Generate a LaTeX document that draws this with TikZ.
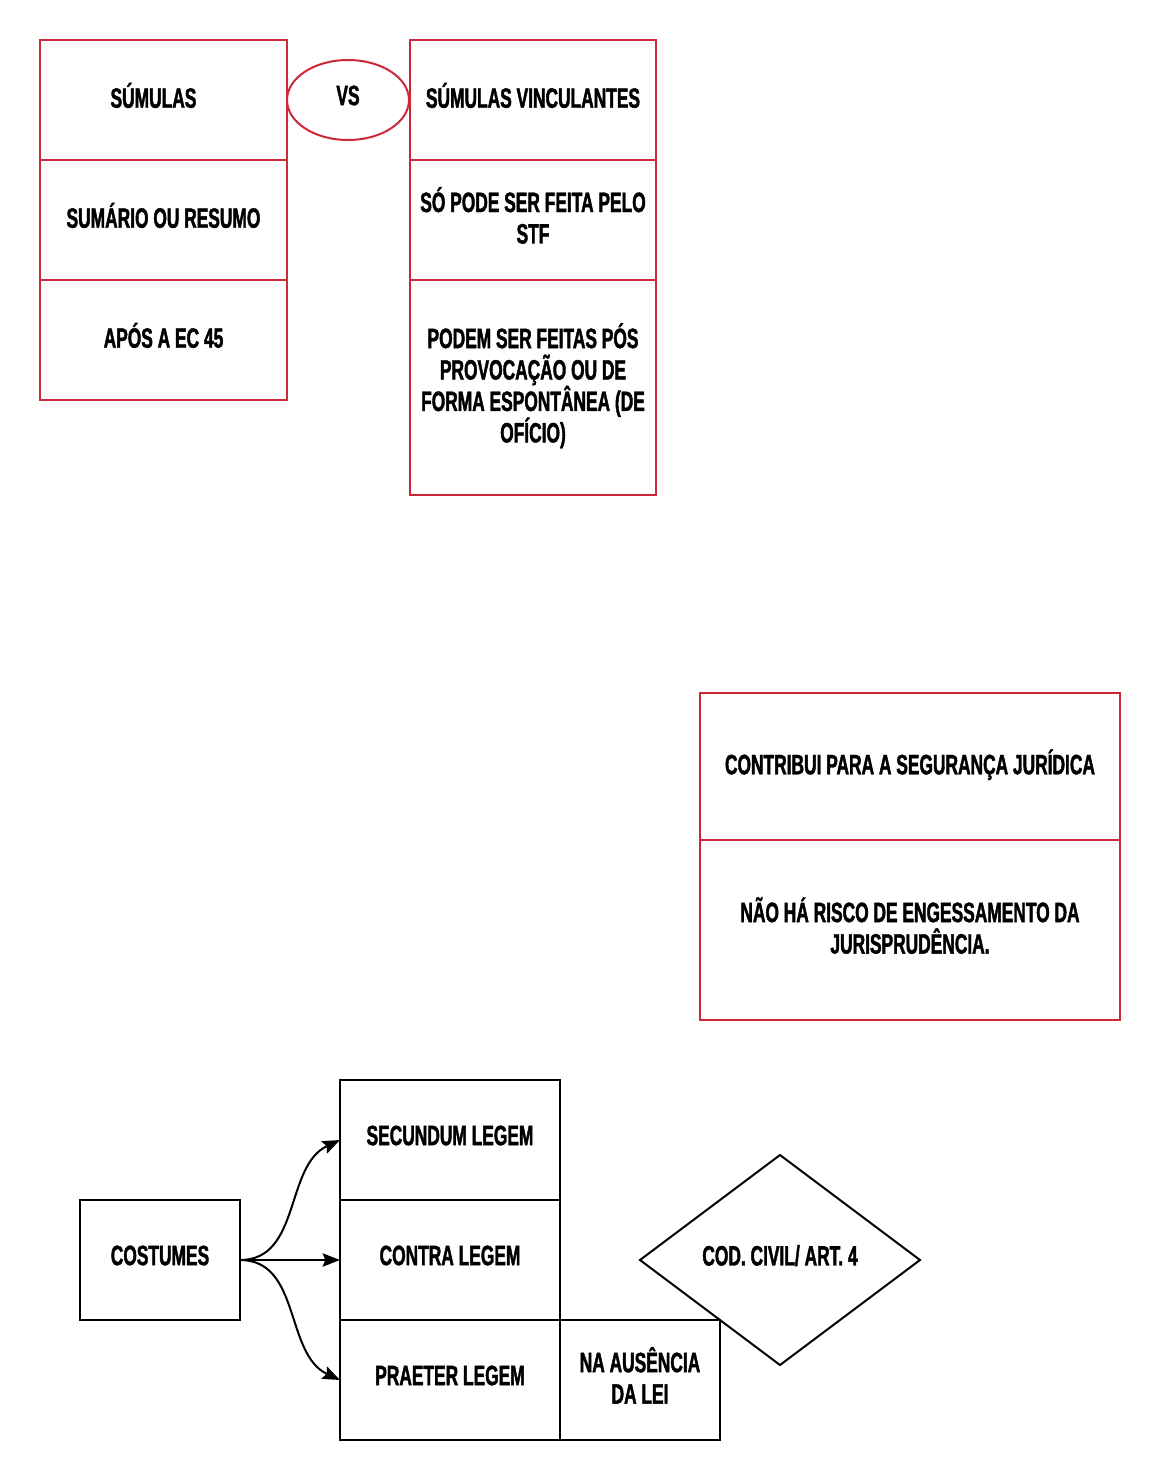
\documentclass[tikz,border=0pt]{standalone}
\usepackage{fontspec}
\newfontfamily\diagfont{Liberation Sans Bold}[FakeStretch=0.62, FakeBold=1.5]
\usetikzlibrary{positioning, shapes, arrows.meta}
\definecolor{boxred}{RGB}{204,41,54}
\tikzstyle{every edge}=[draw, line width=1.5pt, -{Stealth[length=13pt,width=10pt,inset=2pt]}]
\tikzstyle{cell}=[rectangle, draw, line width=1.5pt, outer sep=0pt, inner sep=0pt, align=center, text depth=7pt, font={\diagfont\fontsize{21}{23.6}\selectfont}]
\tikzstyle{red cell}=[cell, draw=boxred]
\tikzstyle{left cell}=[red cell, minimum width=185.25pt, minimum height=90pt]
\tikzstyle{right cell}=[red cell, minimum width=184.5pt, minimum height=90pt]
\tikzstyle{wide cell}=[red cell, minimum width=315pt]
\tikzstyle{black cell}=[cell, minimum width=165pt, minimum height=90pt]

\begin{document}
\begin{tikzpicture}[x=0.75pt, y=-0.75pt, node distance=0pt]
	\useasboundingbox (0,0) rectangle (1160,1479);

	% Draw the left column
	\node[left cell] (S-1) at (163.5,100) {SÚMULAS\hspace*{15pt}};
	\node[left cell, below=of S-1] (S-2) {SUMÁRIO OU RESUMO};
	\node[left cell, below=of S-2] (S-3) {APÓS A EC 45};

	% The versus ellipse
	\node[red cell, ellipse, minimum width=91.5pt, minimum height=60pt] (VS) at (348,100) {VS};

	% Draw the right column
	\node[right cell] (SV-1) at (533,100) {SÚMULAS VINCULANTES};
	\node[right cell, below=of SV-1] (SV-2) {SÓ PODE SER FEITA PELO\\STF};
	\node[right cell, below=of SV-2, minimum height=161.25pt] (SV-3) {PODEM SER FEITAS PÓS\\PROVOCAÇÃO OU DE\\FORMA ESPONTÂNEA (DE\\OFÍCIO)};

	% Draw the wide boxes
	\node[wide cell, minimum height=110.25pt] (W-1) at (910,766.5) {CONTRIBUI PARA A SEGURANÇA JURÍDICA};
	\node[wide cell, below=of W-1, minimum height=135pt] (W-2) {NÃO HÁ RISCO DE ENGESSAMENTO DA\\JURISPRUDÊNCIA.};

	% Draw the costumes part
	\node[black cell, minimum width=120pt] (C) at (160,1260) {COSTUMES};
	\node[black cell] (L-1) at (450,1140) {SECUNDUM LEGEM};
	\node[black cell, below=of L-1] (L-2) {CONTRA LEGEM};
	\node[black cell, below=of L-2] (L-3) {PRAETER LEGEM};
	\node[black cell, right=of L-3, minimum width=120pt] (A) {NA AUSÊNCIA\\DA LEI};
	\node[cell, diamond, aspect=1.333, minimum width=210pt, minimum height=157.5pt] (D) at (780,1260) {COD. CIVIL/ ART. 4};

	% Connect costumes with every legem box
	\path (C.east) edge[out=0, in=205] (L-1.west);
	\path (C.east) edge (L-2.west);
	\path (C.east) edge[out=0, in=155] (L-3.west);
\end{tikzpicture}
\end{document}
